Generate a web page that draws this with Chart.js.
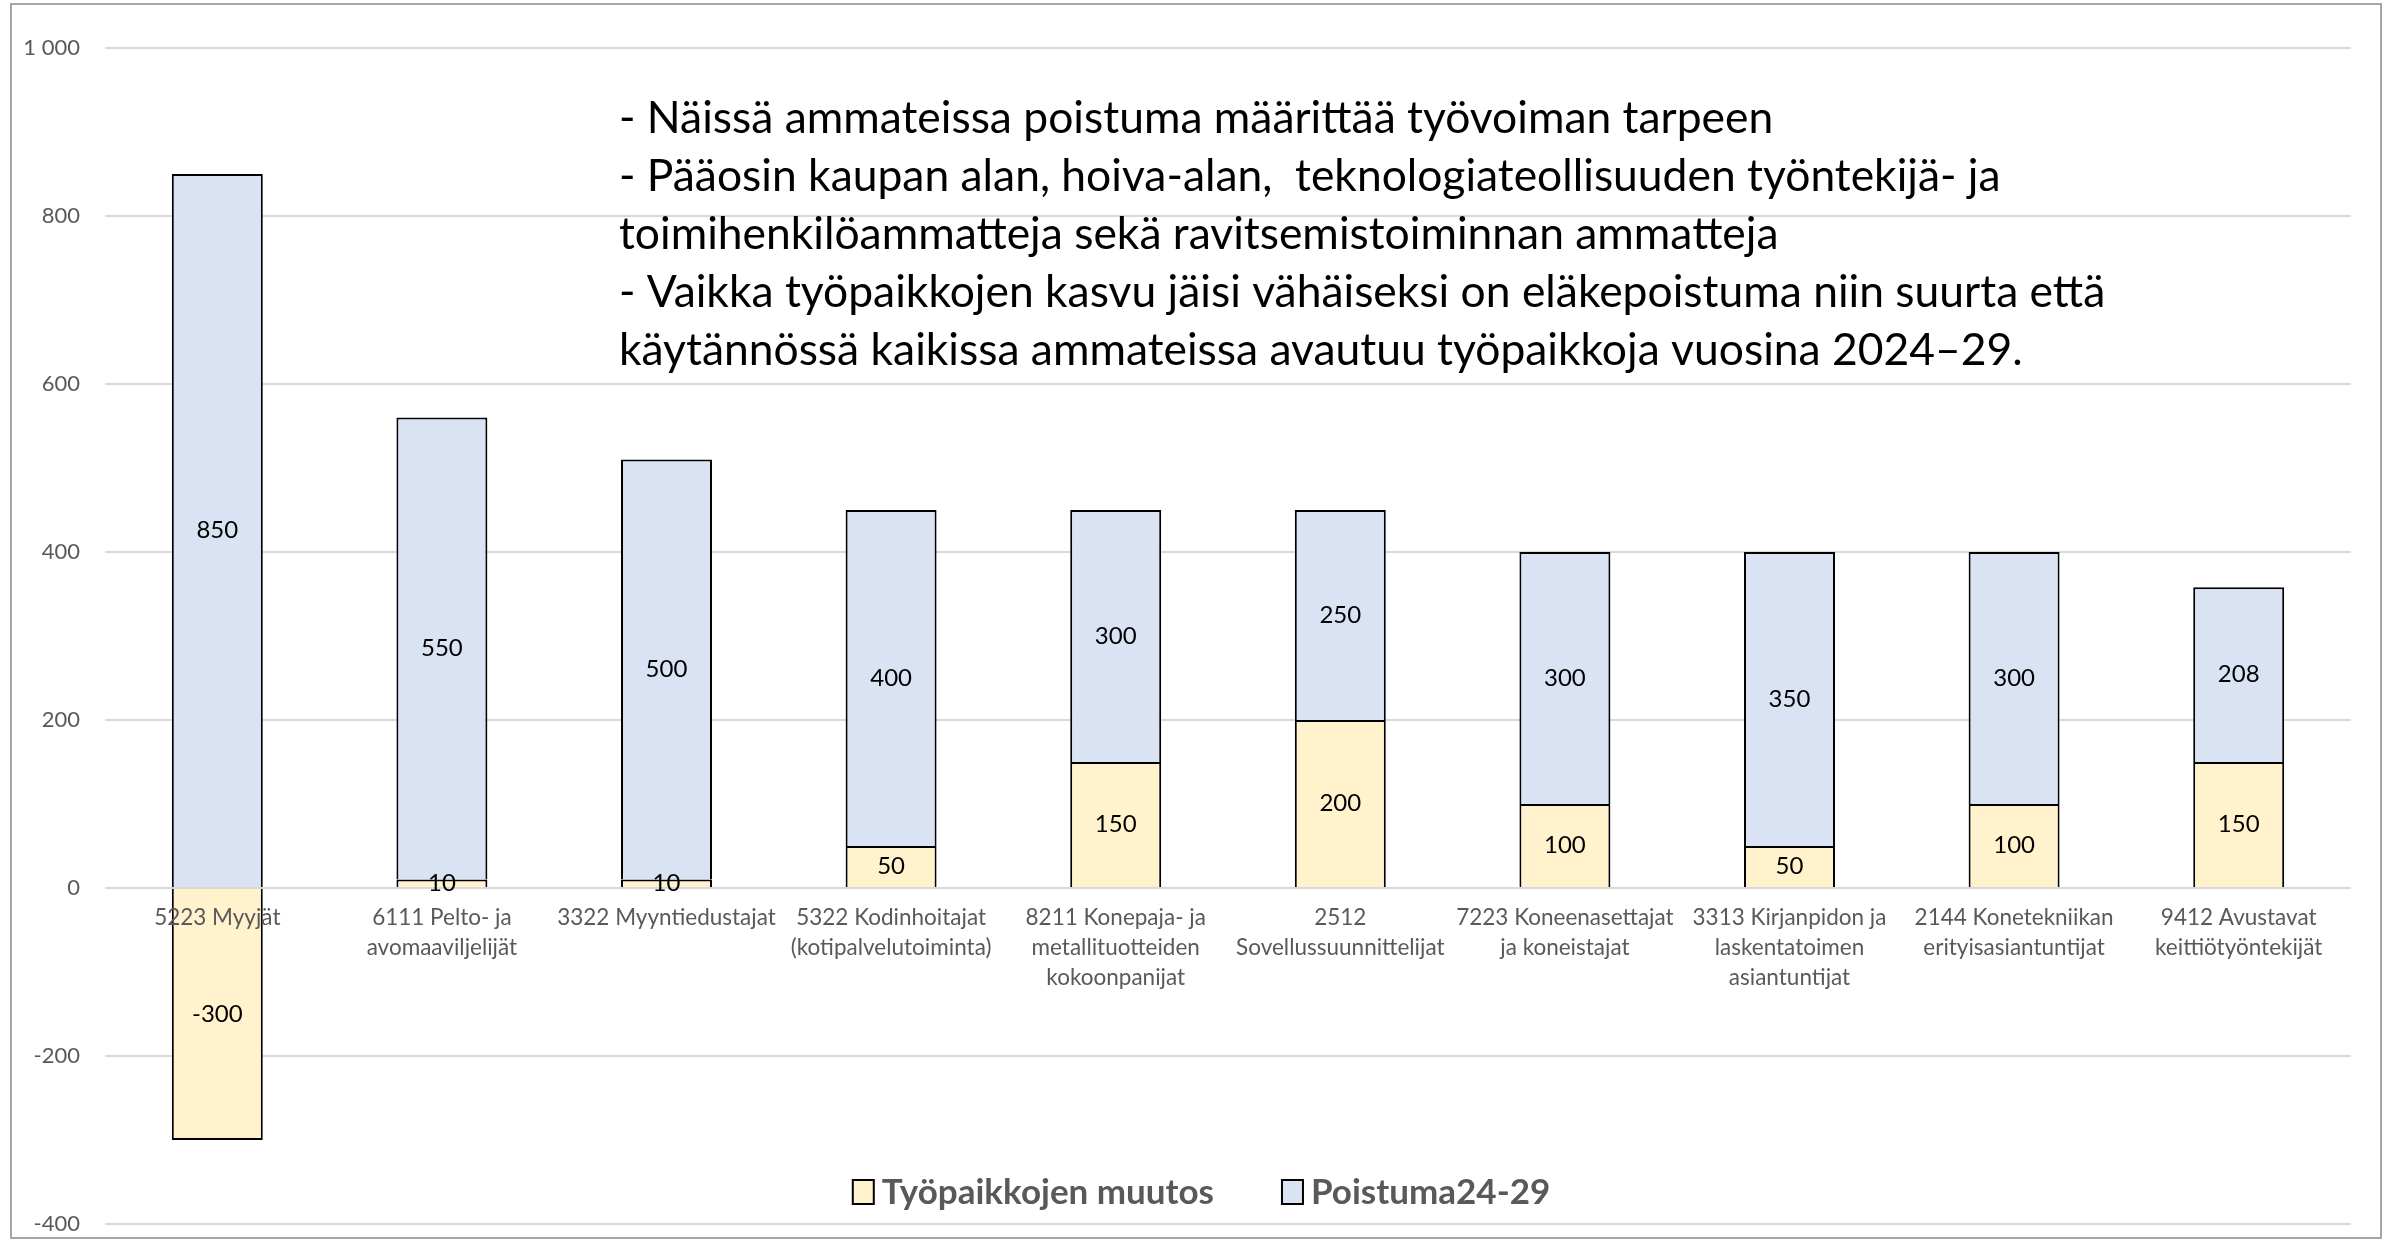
<!DOCTYPE html>
<html lang="fi">
<head>
<meta charset="utf-8">
<title>Poistuma ja työpaikkojen muutos 2024–29</title>
<script src="https://cdn.jsdelivr.net/npm/chart.js@4.4.1/dist/chart.umd.min.js"></script>
<style>
  html, body { margin: 0; padding: 0; background: #fff; }
</style>
</head>
<body>
<canvas id="chart" width="2384" height="1241"></canvas>
<script>
// Ammatit, rivitetty kuten alkuperäisessä kuvassa
const occupations = [
  '5223 Myyjät',
  ['6111 Pelto- ja', 'avomaaviljelijät'],
  '3322 Myyntiedustajat',
  ['5322 Kodinhoitajat', '(kotipalvelutoiminta)'],
  ['8211 Konepaja- ja', 'metallituotteiden', 'kokoonpanijat'],
  ['2512', 'Sovellussuunnittelijat'],
  ['7223 Koneenasettajat', 'ja koneistajat'],
  ['3313 Kirjanpidon ja', 'laskentatoimen', 'asiantuntijat'],
  ['2144 Konetekniikan', 'erityisasiantuntijat'],
  ['9412 Avustavat', 'keittiötyöntekijät']
];

// Sarjat
const seriesNames = ['Työpaikkojen muutos', 'Poistuma24-29'];
const jobChange = [-300, 10, 10, 50, 150, 200, 100, 50, 100, 150];
const retirement = [850, 550, 500, 400, 300, 250, 300, 350, 300, 208];
const seriesColors = ['#FFF2CC', '#DAE3F3'];

// Y-akselin asteikko
const yTicks = [-400, -200, 0, 200, 400, 600, 800, 1000];

// Tekstilaatikko kuvan yläosassa
const noteLines = [
  '- Näissä ammateissa poistuma määrittää työvoiman tarpeen',
  '- Pääosin kaupan alan, hoiva-alan,  teknologiateollisuuden työntekijä- ja',
  'toimihenkilöammatteja sekä ravitsemistoiminnan ammatteja',
  '- Vaikka työpaikkojen kasvu jäisi vähäiseksi on eläkepoistuma niin suurta että',
  'käytännössä kaikissa ammateissa avautuu työpaikkoja vuosina 2024–29.'
];

const FONT = 'Lato, "Open Sans", sans-serif';

// "1 000" -muotoilu, tavallinen miinusmerkki
function formatTick(v) {
  return String(v).replace(/\B(?=(\d{3})+(?!\d))/g, ' ');
}

// Arvot keskelle jokaista palkin osaa
const barLabels = {
  id: 'barLabels',
  afterDatasetsDraw(chart) {
    const ctx = chart.ctx;
    ctx.save();
    ctx.font = '24px ' + FONT;
    ctx.fillStyle = '#000';
    ctx.textAlign = 'center';
    ctx.textBaseline = 'middle';
    chart.data.datasets.forEach((ds, i) => {
      chart.getDatasetMeta(i).data.forEach((bar, j) => {
        const p = bar.getProps(['x', 'y', 'base'], true);
        ctx.fillText(ds.data[j], p.x, (p.y + p.base) / 2);
      });
    });
    ctx.restore();
  }
};

// Selite piirtoalueen alaosaan, tekstilaatikko ja reunaviiva
const extras = {
  id: 'extras',
  afterDraw(chart) {
    const ctx = chart.ctx;
    const area = chart.chartArea;
    ctx.save();

    // ulkoreuna
    ctx.strokeStyle = '#a6a6a6';
    ctx.lineWidth = 2;
    ctx.strokeRect(11, 4, chart.width - 14, chart.height - 7);

    // tekstilaatikko
    ctx.font = '40px ' + FONT;
    const fit = 40 * 1487 / ctx.measureText(noteLines[3]).width;
    ctx.font = fit.toFixed(1) + 'px ' + FONT;
    ctx.fillStyle = '#000';
    ctx.textAlign = 'left';
    ctx.textBaseline = 'middle';
    noteLines.forEach((line, i) => {
      ctx.fillText(line, 619, 119 + i * 57.8);
    });

    // selite
    ctx.font = 'bold 35px ' + FONT;
    const boxW = 21, boxH = 24, gapBox = 8, gapItem = 68;
    const widths = seriesNames.map(n => ctx.measureText(n).width);
    let total = 0;
    widths.forEach((w, i) => { total += boxW + gapBox + w + (i ? gapItem : 0); });
    let x = chart.width * 0.504 - total / 2;
    const y = area.bottom - 32;
    seriesNames.forEach((name, i) => {
      ctx.fillStyle = seriesColors[i];
      ctx.fillRect(x, y - boxH / 2, boxW, boxH);
      ctx.strokeStyle = '#000';
      ctx.lineWidth = 2;
      ctx.strokeRect(x, y - boxH / 2, boxW, boxH);
      ctx.fillStyle = '#595959';
      ctx.fillText(name, x + boxW + gapBox, y + 1);
      x += boxW + gapBox + widths[i] + gapItem;
    });
    ctx.restore();
  }
};

new Chart(document.getElementById('chart'), {
  type: 'bar',
  data: {
    labels: occupations,
    datasets: [
      { label: seriesNames[0], data: jobChange, backgroundColor: seriesColors[0], borderColor: '#000', borderWidth: 2 },
      { label: seriesNames[1], data: retirement, backgroundColor: seriesColors[1], borderColor: '#000', borderWidth: 2 }
    ]
  },
  options: {
    responsive: false,
    animation: false,
    layout: { padding: { left: 12, right: 33, top: 48, bottom: 17 } },
    datasets: { bar: { categoryPercentage: 1, barPercentage: 0.405 } },
    plugins: {
      legend: { display: false },
      tooltip: { enabled: false }
    },
    scales: {
      x: {
        stacked: true,
        position: { y: 0 },
        grid: { display: false, drawTicks: false },
        border: { display: false },
        afterFit(scale) { scale.paddingTop = 0; scale.paddingBottom = 0; },
        ticks: {
          z: 1,
          color: '#595959',
          font: { family: FONT, size: 22.5, lineHeight: 1.32 },
          padding: 15,
          maxRotation: 0,
          autoSkip: false
        }
      },
      y: {
        stacked: true,
        min: Math.min(...yTicks),
        max: Math.max(...yTicks),
        afterFit(scale) {
          scale.width = 93;
          scale.paddingTop = 0;
          scale.paddingBottom = 0;
        },
        afterBuildTicks(scale) { scale.ticks = yTicks.map(v => ({ value: v })); },
        grid: { color: '#d9d9d9', lineWidth: 2, drawTicks: false },
        border: { display: false },
        ticks: {
          color: '#595959',
          font: { family: FONT, size: 22 },
          padding: 25,
          callback: formatTick
        }
      }
    }
  },
  plugins: [barLabels, extras]
});
</script>
</body>
</html>
